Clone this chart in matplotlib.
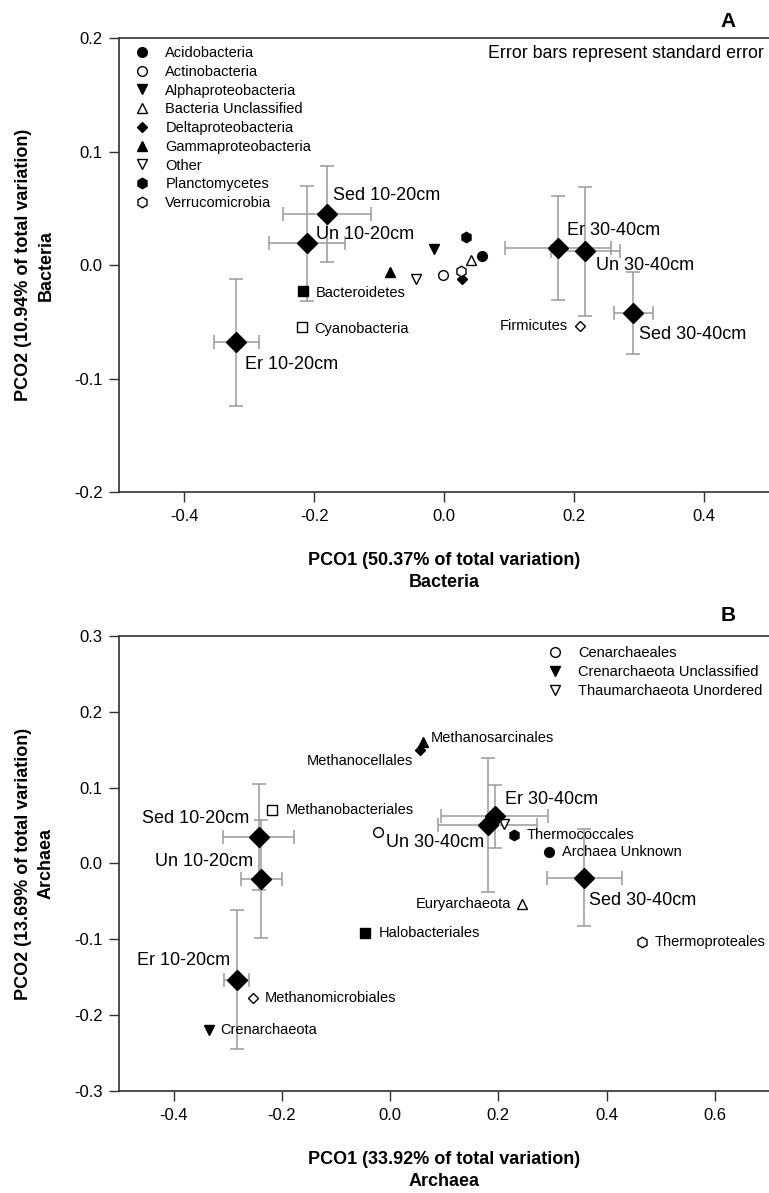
import matplotlib
matplotlib.use('Agg')
import matplotlib.pyplot as plt
from matplotlib.lines import Line2D

plt.rcParams['font.family'] = ['Liberation Sans', 'DejaVu Sans']

# ---- data: panel A (Bacteria) ----
sample_names = ['Sed 10-20cm', 'Un 10-20cm', 'Er 10-20cm', 'Er 30-40cm', 'Un 30-40cm', 'Sed 30-40cm']
bac_x = [-0.180, -0.211, -0.320, 0.175, 0.217, 0.291]
bac_y = [0.045, 0.019, -0.068, 0.015, 0.012, -0.042]
bac_xerr = [0.068, 0.058, 0.035, 0.081, 0.053, 0.030]
bac_yerr = [0.042, 0.051, 0.056, 0.046, 0.057, 0.036]

bac_taxa = ['Acidobacteria', 'Actinobacteria', 'Alphaproteobacteria', 'Bacteria Unclassified',
            'Deltaproteobacteria', 'Gammaproteobacteria', 'Other', 'Planctomycetes', 'Verrucomicrobia',
            'Bacteroidetes', 'Cyanobacteria', 'Firmicutes']
bac_taxa_x = [0.058, -0.002, -0.015, 0.041, 0.027, -0.083, -0.044, 0.034, 0.0265, -0.2175, -0.2185, 0.209]
bac_taxa_y = [0.008, -0.009, 0.014, 0.0045, -0.0125, -0.006, -0.012, 0.0245, -0.005, -0.023, -0.055, -0.054]
bac_in_legend = 9  # first nine taxa go in the legend, the rest are labelled

# ---- data: panel B (Archaea) ----
arc_x = [-0.243, -0.238, -0.283, 0.193, 0.180, 0.359]
arc_y = [0.035, -0.020, -0.153, 0.062, 0.051, -0.019]
arc_xerr = [0.065, 0.038, 0.023, 0.099, 0.091, 0.070]
arc_yerr = [0.070, 0.078, 0.092, 0.042, 0.088, 0.064]

arc_taxa = ['Cenarchaeales', 'Crenarchaeota', 'Thaumarchaeota Unordered',
            'Methanobacteriales', 'Methanocellales', 'Methanosarcinales', 'Thermococcales',
            'Archaea Unknown', 'Euryarchaeota', 'Thermoproteales', 'Halobacteriales',
            'Methanomicrobiales']
arc_taxa_x = [-0.0215, -0.334, 0.210, -0.218, 0.055, 0.0615, 0.2286, 0.293, 0.2446, 0.465, -0.046, -0.254]
arc_taxa_y = [0.041, -0.219, 0.052, 0.070, 0.150, 0.1605, 0.0375, 0.0153, -0.053, -0.1035, -0.091, -0.178]
arc_legend_names = ['Cenarchaeales', 'Crenarchaeota Unclassified', 'Thaumarchaeota Unordered']

bac_xticks = [-0.4, -0.2, 0.0, 0.2, 0.4]
bac_yticks = [-0.2, -0.1, 0.0, 0.1, 0.2]
arc_xticks = [-0.4, -0.2, 0.0, 0.2, 0.4, 0.6]
arc_yticks = [-0.3, -0.2, -0.1, 0.0, 0.1, 0.2, 0.3]

# ---- styles ----
# (marker, filled)
bac_style = [('o', True), ('o', False), ('v', True), ('^', False), ('D', True), ('^', True),
             ('v', False), ('h', True), ('h', False), ('s', True), ('s', False), ('D', False)]
arc_style = [('o', False), ('v', True), ('v', False), ('s', False), ('D', True), ('^', True),
             ('h', True), ('o', True), ('^', False), ('h', False), ('s', True), ('D', False)]
ms_small = {'o': 7, 'v': 7, '^': 7, 'D': 5.5, 'h': 7.5, 's': 6.5}

# label offsets in points (dx, dy, ha)
bac_sample_off = [(4, 13, 'left'), (6.5, 6.5, 'left'), (6, -16, 'left'),
                  (6.5, 12.5, 'left'), (7.5, -10, 'left'), (4.3, -16, 'left')]
bac_taxa_off = {'Bacteroidetes': (9, -1.5, 'left'), 'Cyanobacteria': (8.5, -1, 'left'),
                'Firmicutes': (-9, 0, 'right')}
arc_sample_off = [(-6.7, 13, 'right'), (-5.8, 12, 'right'), (-4.8, 14, 'right'),
                  (7.4, 12, 'left'), (-2.4, -12.7, 'right'), (3.6, -16, 'left')]
arc_taxa_off = {'Crenarchaeota': (8, 0, 'left'), 'Methanobacteriales': (9.5, 0.5, 'left'),
                'Methanocellales': (-5, -8, 'right'), 'Methanosarcinales': (5.5, 2.4, 'left'),
                'Thermococcales': (9.5, 0, 'left'), 'Archaea Unknown': (9.5, 0, 'left'),
                'Euryarchaeota': (-8.5, 0, 'right'), 'Thermoproteales': (9.5, 0, 'left'),
                'Halobacteriales': (9.5, 0, 'left'), 'Methanomicrobiales': (9, 0, 'left')}

err_col = '#9a9a9a'
spine_col = '#303030'


def draw_panel(ax, sx, sy, sxerr, syerr, sample_off, tx, ty, tnames, tstyle, toff):
    ax.errorbar(sx, sy, xerr=sxerr, yerr=syerr, fmt='none', ecolor=err_col,
                elinewidth=1.1, capsize=5, capthick=1.1, zorder=2)
    ax.plot(sx, sy, 'D', color='black', markersize=10.5, linestyle='none', zorder=4)
    for name, x, y, (dx, dy, ha) in zip(sample_names, sx, sy, sample_off):
        ax.annotate(name, (x, y), xytext=(dx, dy), textcoords='offset points',
                    ha=ha, va='center', fontsize=13, zorder=5)
    for name, x, y, (m, filled) in zip(tnames, tx, ty, tstyle):
        ax.plot([x], [y], marker=m, markersize=ms_small[m], linestyle='none',
                markerfacecolor='black' if filled else 'white', markeredgecolor='black',
                markeredgewidth=1.0, zorder=3)
        if name in toff:
            dx, dy, ha = toff[name]
            ax.annotate(name, (x, y), xytext=(dx, dy), textcoords='offset points',
                        ha=ha, va='center', fontsize=10.5, zorder=5)
    for side in ['left', 'bottom', 'top']:
        ax.spines[side].set_color(spine_col)
        ax.spines[side].set_linewidth(1.2)
    ax.spines['right'].set_visible(False)
    ax.tick_params(direction='out', length=7, width=1.0, color=spine_col,
                   labelsize=12, pad=5, top=False, right=False)


def legend_handles(styles, names):
    hs = []
    for (m, filled), n in zip(styles, names):
        hs.append(Line2D([], [], marker=m, linestyle='none', markersize=ms_small[m],
                         markerfacecolor='black' if filled else 'white',
                         markeredgecolor='black', label=n))
    return hs


fig = plt.figure(figsize=(7.69, 11.93), dpi=100)
axA = fig.add_axes([0.1553, 0.5876, 0.8447, 0.3805])
axB = fig.add_axes([0.1553, 0.0855, 0.8447, 0.3814])

draw_panel(axA, bac_x, bac_y, bac_xerr, bac_yerr, bac_sample_off,
           bac_taxa_x, bac_taxa_y, bac_taxa, bac_style, bac_taxa_off)
axA.set_xlim(-0.5, 0.5)
axA.set_ylim(-0.2, 0.2)
axA.set_xticks(bac_xticks)
axA.set_yticks(bac_yticks)
axA.set_xticklabels(['%.1f' % v for v in bac_xticks])
axA.set_yticklabels(['%.1f' % v for v in bac_yticks])
axA.set_xlabel('PCO1 (50.37% of total variation)\nBacteria', fontsize=13, fontweight='bold',
               linespacing=1.4)
axA.set_ylabel('PCO2 (10.94% of total variation)\nBacteria', fontsize=13, fontweight='bold',
               linespacing=1.4)
legA = axA.legend(handles=legend_handles(bac_style[:bac_in_legend], bac_taxa[:bac_in_legend]),
                  loc='upper left', bbox_to_anchor=(0.0, 1.016), frameon=False, fontsize=10.5,
                  handlelength=1.0, handletextpad=1.1, labelspacing=0.325, borderpad=1.05,
                  borderaxespad=0)
axA.text(0.992, 0.967, 'Error bars represent standard error', transform=axA.transAxes,
         ha='right', va='center', fontsize=12.8)
fig.text(0.947, 0.982, 'A', ha='center', va='center', fontsize=15, fontweight='bold')

draw_panel(axB, arc_x, arc_y, arc_xerr, arc_yerr, arc_sample_off,
           arc_taxa_x, arc_taxa_y, arc_taxa, arc_style, arc_taxa_off)
axB.set_xlim(-0.5, 0.7)
axB.set_ylim(-0.3, 0.3)
axB.set_xticks(arc_xticks)
axB.set_yticks(arc_yticks)
axB.set_xticklabels(['%.1f' % v for v in arc_xticks])
axB.set_yticklabels(['%.1f' % v for v in arc_yticks])
axB.set_xlabel('PCO1 (33.92% of total variation)\nArchaea', fontsize=13, fontweight='bold',
               linespacing=1.4)
axB.set_ylabel('PCO2 (13.69% of total variation)\nArchaea', fontsize=13, fontweight='bold',
               linespacing=1.4)
legB = axB.legend(handles=legend_handles(arc_style[:3], arc_legend_names),
                  loc='upper left', bbox_to_anchor=(0.635, 1.011), frameon=False, fontsize=10.5,
                  handlelength=1.0, handletextpad=1.1, labelspacing=0.325, borderpad=1.05,
                  borderaxespad=0)
fig.text(0.947, 0.484, 'B', ha='center', va='center', fontsize=15, fontweight='bold')

for ax in (axA, axB):
    ax.xaxis.set_label_coords(0.5, -0.132)
    ax.yaxis.set_label_coords(-0.1, 0.5)

fig.savefig('out.png', dpi=100)
